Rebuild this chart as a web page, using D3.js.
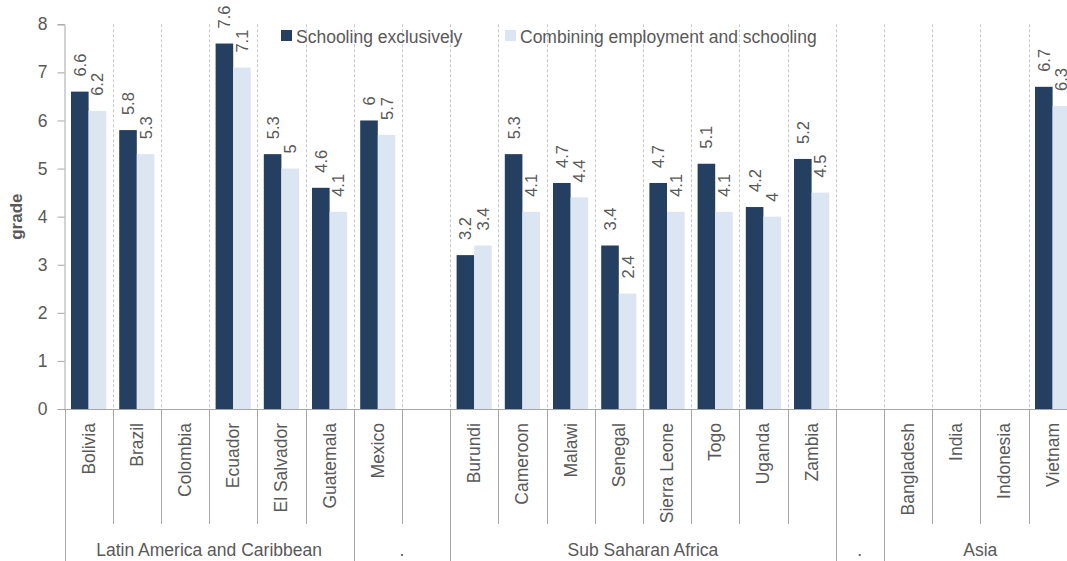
<!DOCTYPE html>
<html>
<head>
<meta charset="utf-8">
<script src="https://cdn.jsdelivr.net/npm/d3@7"></script>
<style>
  html, body { margin: 0; padding: 0; background: #fff; }
  svg { display: block; font-family: "Liberation Sans", Arial, sans-serif; }
</style>
</head>
<body>
<svg id="chart" width="1067" height="561"></svg>
<script>
// ---- data ----
const categories = ["Bolivia","Brazil","Colombia","Ecuador","El Salvador","Guatemala","Mexico","",
  "Burundi","Cameroon","Malawi","Senegal","Sierra Leone","Togo","Uganda","Zambia","",
  "Bangladesh","India","Indonesia","Vietnam"];
const groupNames = ["Latin America and Caribbean", ".", "Sub Saharan Africa", ".", "Asia"];
const groupSizes = [6, 2, 8, 1, 4];
const seriesNames = ["Schooling exclusively", "Combining employment and schooling"];
const schooling = [6.6,5.8,null,7.6,5.3,4.6,6,null,3.2,5.3,4.7,3.4,4.7,5.1,4.2,5.2,null,null,null,null,6.7];
const combining = [6.2,5.3,null,7.1,5,4.1,5.7,null,3.4,4.1,4.4,2.4,4.1,4.1,4,4.5,null,null,null,null,6.3];
const yTicks = [0,1,2,3,4,5,6,7,8];
const colors = ["#243F60", "#DCE6F2"];

// ---- layout ----
const svg = d3.select("#chart");
const plotLeft = 64.5, slotW = 48.2, plotTop = 24.3, plotBottom = 409;
const textColor = "#595959", axisColor = "#a6a6a6", gridColor = "#c8c8c8";

const x = d3.scaleBand().domain(d3.range(categories.length))
  .range([plotLeft, plotLeft + slotW * categories.length]).padding(0);
const xs = d3.scaleBand().domain([0, 1]).range([0, x.bandwidth()]).paddingOuter(0.37).paddingInner(0);
const y = d3.scaleLinear().domain([0, 8]).range([plotBottom, plotTop]);

// dashed vertical gridlines in plot area
svg.append("g").selectAll("line")
  .data(d3.range(1, categories.length + 1))
  .join("line")
  .attr("x1", d => Math.round(x(d - 1) + x.bandwidth()) + 0.5).attr("x2", d => Math.round(x(d - 1) + x.bandwidth()) + 0.5)
  .attr("y1", plotTop).attr("y2", plotBottom)
  .attr("stroke", gridColor).attr("stroke-width", 1).attr("stroke-dasharray", "3,2");

// bars
const series = [schooling, combining];
series.forEach((vals, si) => {
  const data = vals.map((v, i) => ({ i, v })).filter(d => d.v != null);
  svg.append("g").selectAll("rect").data(data).join("rect")
    .attr("x", d => x(d.i) + xs(si))
    .attr("width", xs.bandwidth())
    .attr("y", d => y(d.v))
    .attr("height", d => y(0) - y(d.v))
    .attr("fill", colors[si]);
  svg.append("g").selectAll("text").data(data).join("text")
    .attr("transform", d => `translate(${x(d.i) + xs(si) + xs.bandwidth() / 2},${y(d.v) - 15}) rotate(-90)`)
    .attr("text-anchor", "start")
    .attr("dominant-baseline", "central")
    .attr("font-size", "16.5px")
    .attr("fill", textColor)
    .text(d => d.v);
});

// y axis
const yAxis = d3.axisLeft(y).tickValues(yTicks).tickSize(7).tickPadding(10).tickFormat(d3.format("d"));
const ya = svg.append("g").attr("transform", `translate(${plotLeft},0)`).call(yAxis);
ya.select(".domain").attr("stroke", axisColor);
ya.selectAll(".tick line").attr("stroke", axisColor);
ya.selectAll(".tick text").attr("font-size", "17.5px").attr("fill", textColor).attr("font-family", "Liberation Sans, Arial, sans-serif");

svg.append("text")
  .attr("transform", `translate(22,${(plotTop + plotBottom) / 2}) rotate(-90)`)
  .attr("text-anchor", "middle")
  .attr("font-size", "17px").attr("font-weight", "bold").attr("fill", textColor)
  .text("grade");

// x axis line
svg.append("line").attr("x1", plotLeft).attr("x2", 1067).attr("y1", plotBottom + 0.5).attr("y2", plotBottom + 0.5)
  .attr("stroke", axisColor);

// group boundaries
const groupStarts = [];
let acc = 0;
groupSizes.forEach(s => { groupStarts.push(acc); acc += s; });
const groupBoundaryIdx = new Set(groupStarts.concat([acc]));

// category separators below axis
svg.append("g").selectAll("line")
  .data(d3.range(0, categories.length + 1))
  .join("line")
  .attr("x1", d => Math.round(plotLeft + d * slotW) + 0.5).attr("x2", d => Math.round(plotLeft + d * slotW) + 0.5)
  .attr("y1", plotBottom).attr("y2", d => groupBoundaryIdx.has(d) ? 561 : 524)
  .attr("stroke", axisColor);

// category labels
svg.append("g").selectAll("text").data(categories.map((c, i) => ({ c, i })))
  .join("text")
  .attr("transform", d => `translate(${x(d.i) + x.bandwidth() / 2},423) rotate(-90)`)
  .attr("text-anchor", "end")
  .attr("dominant-baseline", "central")
  .attr("font-size", "17.5px").attr("fill", textColor)
  .text(d => d.c);

// group labels
svg.append("g").selectAll("text").data(groupNames.map((g, k) => ({ g, k })))
  .join("text")
  .attr("x", d => plotLeft + (groupStarts[d.k] + groupSizes[d.k] / 2) * slotW)
  .attr("y", 556)
  .attr("text-anchor", "middle")
  .attr("font-size", "17.5px").attr("fill", textColor)
  .text(d => d.g);

// legend
const legendX = [281, 505];
const lg = svg.append("g");
seriesNames.forEach((s, i) => {
  lg.append("rect").attr("x", legendX[i]).attr("y", 30).attr("width", 11).attr("height", 11).attr("fill", colors[i]);
  lg.append("text").attr("x", legendX[i] + 15).attr("y", 42.5)
    .attr("font-size", "17.5px").attr("fill", textColor).text(s);
});
</script>
</body>
</html>
